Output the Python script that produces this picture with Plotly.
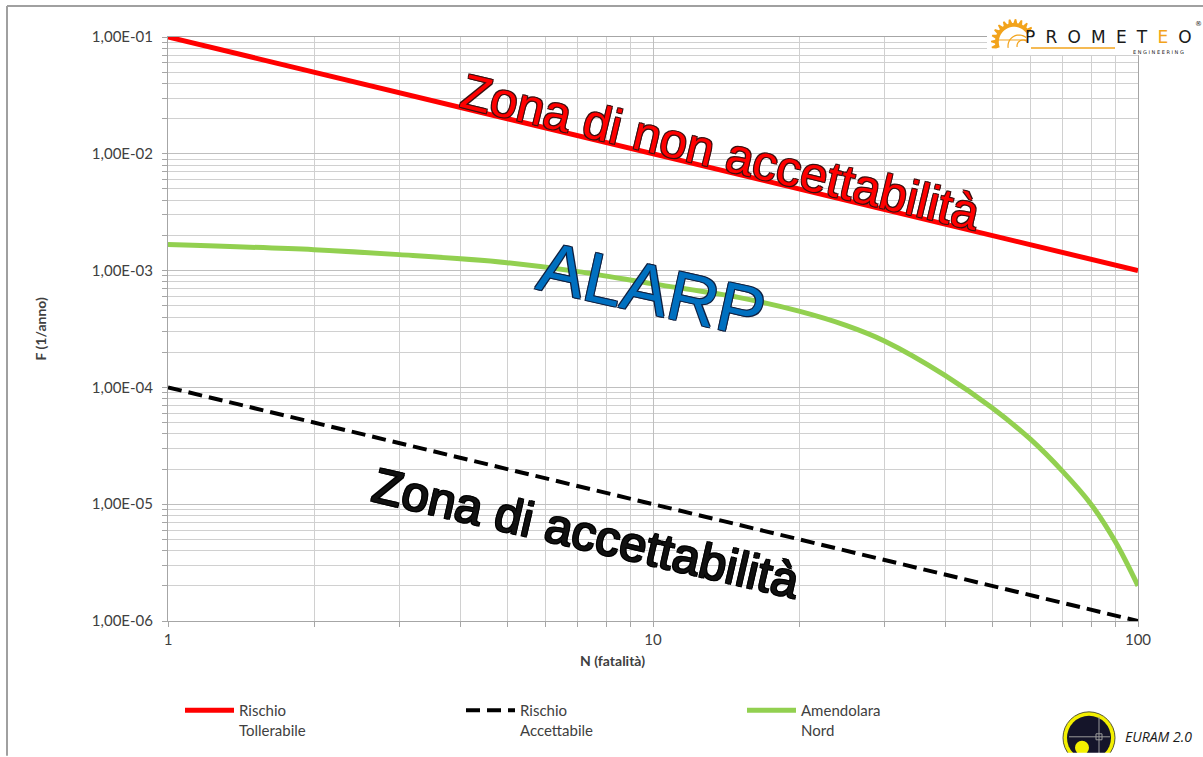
import math
import plotly.graph_objects as go

# Risk criteria lines (F-N plot)
n_tollerabile = [1, 100]
f_tollerabile = [1e-1, 1e-3]

n_accettabile = [1, 100]
f_accettabile = [1e-4, 1e-6]

# F-N curve, Amendolara Nord
n_amendolara = [1, 2, 3, 5, 7, 10, 15, 20, 25, 30, 40, 50, 60, 70, 80, 90, 100]
f_amendolara = [1.67e-3, 1.51e-3, 1.37e-3, 1.17e-3, 9.8e-4, 7.7e-4, 5.9e-4, 4.5e-4,
                3.4e-4, 2.5e-4, 1.27e-4, 6.7e-5, 3.6e-5, 1.9e-5, 1.0e-5, 4.7e-6, 2.0e-6]

x_tickvals = [1, 10, 100]
x_ticktext = ["1", "10", "100"]
y_tickvals = [1e-6, 1e-5, 1e-4, 1e-3, 1e-2, 1e-1]
y_ticktext = ["1,00E-06", "1,00E-05", "1,00E-04", "1,00E-03", "1,00E-02", "1,00E-01"]

W, H = 1203, 757
L, R, T, B = 168, 1138, 37, 622


def px(x):
    return (x - L) / (R - L)


def py(y):
    return (B - y) / (B - T)


FONT = "Lato"
TXT = "#404040"
ORANGE = "#F2A31B"

fig = go.Figure()
fig.add_trace(go.Scatter(x=n_tollerabile, y=f_tollerabile, mode="lines",
                         name="Rischio<br>Tollerabile",
                         line=dict(color="#FF0000", width=5)))
fig.add_trace(go.Scatter(x=n_accettabile, y=f_accettabile, mode="lines",
                         name="Rischio<br>Accettabile",
                         line=dict(color="#000000", width=4, dash="14px,7px")))
fig.add_trace(go.Scatter(x=n_amendolara, y=f_amendolara, mode="lines",
                         name="Amendolara<br>Nord",
                         line=dict(color="#92D050", width=5, shape="spline", smoothing=1.0)))

axis_common = dict(
    type="log",
    showgrid=True, gridcolor="#BFBFBF", gridwidth=1,
    showline=True, linecolor="#A6A6A6", linewidth=1, mirror=True,
    ticks="outside", ticklen=5, tickcolor="#A6A6A6",
    tickfont=dict(family=FONT, size=15, color=TXT),
    minor=dict(dtick="D1", showgrid=True, gridcolor="#D0D0D0", gridwidth=1,
               ticks="outside", ticklen=5, tickcolor="#A6A6A6"),
    zeroline=False,
)

fig.update_xaxes(**axis_common, range=[0, 2], tickvals=x_tickvals, ticktext=x_ticktext)
fig.update_yaxes(**axis_common, range=[-6, -1], tickvals=y_tickvals, ticktext=y_ticktext,
                 ticklabelstandoff=6)


def outline(c):
    return f"-1px -1px 0 {c}, 1px -1px 0 {c}, -1px 1px 0 {c}, 1px 1px 0 {c}"


def label(text, x, y, **kw):
    d = dict(text=text, x=px(x), y=py(y), xref="paper", yref="paper",
             xanchor="center", yanchor="middle", showarrow=False)
    d.update(kw)
    return d


SP = "\u2002\u200a"
wordmark = SP.join(["P", "R", "O", "M", "E", "T", "<span style='color:#F2A31B'>E</span>", "O"])

annotations = [
    # axis titles
    label("<b>N (fatalità)</b>", 612, 662, font=dict(family=FONT, size=14, color=TXT)),
    label("<b>F (1/anno)</b>", 40, 330, textangle=-90, font=dict(family=FONT, size=14, color=TXT)),
    # zone labels
    label("Zona di non accettabilità", 721, 152, textangle=13.5,
          font=dict(family="Liberation Sans", size=49, color="#FF0000", shadow=outline("#3a1010"))),
    label("ALARP", 652, 290, textangle=12.5,
          font=dict(family="Liberation Sans", size=70, color="#0070C0", shadow=outline("#102040"))),
    label("Zona di accettabilità", 586, 534, textangle=13,
          font=dict(family="Liberation Sans", size=49, color="#111111", shadow=outline("#000000"))),
    # company logo (top right)
    label(wordmark, 1108, 37, font=dict(family="DejaVu Sans", size=17, color="#1a1a1a")),
    label("E N G I N E E R I N G", 1158, 52,
          font=dict(family="DejaVu Sans", size=5, color="#1a1a1a")),
    label("®", 1198, 24, font=dict(family="DejaVu Sans", size=7, color="#1a1a1a")),
    # software logo (bottom right)
    label("<i>EURAM 2.0</i>", 1158, 738, font=dict(family="Open Sans", size=14, color="#1a1a1a")),
]


def gear_path(cx, cy, r_out, r_in, a_from, a_to, teeth):
    # toothed arc of a wheel, in paper coordinates
    pts = []
    step = (a_from - a_to) / teeth
    for i in range(teeth):
        a0 = a_from - i * step
        for frac, r in ((0.0, r_in), (0.25, r_out), (0.5, r_out), (0.75, r_in)):
            a = math.radians(a0 - frac * step)
            pts.append((cx + r * math.cos(a), cy - r * math.sin(a)))
    inner = 0.8 * r_in
    for k in range(25):
        a = math.radians(a_to + (a_from - a_to) * k / 24)
        pts.append((cx + inner * math.cos(a), cy - inner * math.sin(a)))
    return "M " + " L ".join(f"{px(x):.5f},{py(y):.5f}" for x, y in pts) + " Z"


def arc_path(cx, cy, r, a_start, a_end, n=20):
    pts = []
    for k in range(n + 1):
        a = math.radians(a_start + (a_end - a_start) * k / n)
        pts.append((cx + r * math.cos(a), cy - r * math.sin(a)))
    return "M " + " L ".join(f"{px(x):.5f},{py(y):.5f}" for x, y in pts)


GX, GY = 1014, 42

shapes = [
    # page frame
    dict(type="line", xref="paper", yref="paper", x0=px(7), x1=px(W), y0=py(6), y1=py(6),
         line=dict(color="#A0A0A0", width=2), layer="above"),
    dict(type="line", xref="paper", yref="paper", x0=px(7), x1=px(7), y0=py(6), y1=py(H),
         line=dict(color="#A0A0A0", width=2), layer="above"),
    # logo background
    dict(type="rect", xref="paper", yref="paper", x0=px(987), x1=px(1200), y0=py(8), y1=py(55),
         fillcolor="white", line=dict(width=0), layer="above"),
    dict(type="path", xref="paper", yref="paper", path=gear_path(GX, GY, 23, 19, 200, 30, 11),
         fillcolor=ORANGE, line=dict(width=0), layer="above"),
    dict(type="path", xref="paper", yref="paper", path=arc_path(GX + 5, GY + 4, 11, 190, 50),
         line=dict(color=ORANGE, width=1.2), layer="above"),
    dict(type="path", xref="paper", yref="paper", path=arc_path(GX + 9, GY + 4, 6, 190, 50),
         line=dict(color=ORANGE, width=1.2), layer="above"),
    dict(type="line", xref="paper", yref="paper", x0=px(GX - 16), x1=px(GX + 14), y0=py(GY - 2), y1=py(GY - 2),
         line=dict(color=ORANGE, width=1), layer="above"),
    dict(type="line", xref="paper", yref="paper", x0=px(1031), x1=px(1115), y0=py(48), y1=py(48),
         line=dict(color=ORANGE, width=1.5), layer="above"),
    # EURAM emblem
    dict(type="circle", xref="paper", yref="paper", x0=px(1063), x1=px(1115), y0=py(713), y1=py(765),
         fillcolor="#F4F000", line=dict(color="#555533", width=1), layer="above"),
    dict(type="circle", xref="paper", yref="paper", x0=px(1067), x1=px(1111), y0=py(717), y1=py(761),
         fillcolor="#15152A", line=dict(width=0), layer="above"),
    dict(type="circle", xref="paper", yref="paper", x0=px(1075), x1=px(1089), y0=py(742), y1=py(756),
         fillcolor="#F4F000", line=dict(width=0), layer="above"),
    dict(type="line", xref="paper", yref="paper", x0=px(1069), x1=px(1110), y0=py(738), y1=py(738),
         line=dict(color="#9a9a9a", width=1), layer="above"),
    dict(type="line", xref="paper", yref="paper", x0=px(1099), x1=px(1099), y0=py(718), y1=py(755),
         line=dict(color="#9a9a9a", width=1), layer="above"),
    dict(type="rect", xref="paper", yref="paper", x0=px(1096), x1=px(1102), y0=py(735), y1=py(741),
         fillcolor="rgba(0,0,0,0)", line=dict(color="#9a9a9a", width=1), layer="above"),
    dict(type="rect", xref="paper", yref="paper", x0=px(1055), x1=px(1125), y0=py(754), y1=py(H + 20),
         fillcolor="white", line=dict(width=0), layer="above"),
]

fig.update_layout(
    width=W, height=H,
    margin=dict(l=L, r=W - R, t=T, b=H - B),
    paper_bgcolor="white", plot_bgcolor="white",
    font=dict(family=FONT, color=TXT),
    showlegend=True,
    legend=dict(orientation="h", x=px(180), y=py(694), xanchor="left", yanchor="top",
                entrywidth=217, entrywidthmode="pixels", itemwidth=49, valign="top",
                font=dict(family=FONT, size=15, color=TXT), bgcolor="rgba(0,0,0,0)",
                tracegroupgap=0),
    annotations=annotations,
    shapes=shapes,
)

fig.write_html("out.html")
